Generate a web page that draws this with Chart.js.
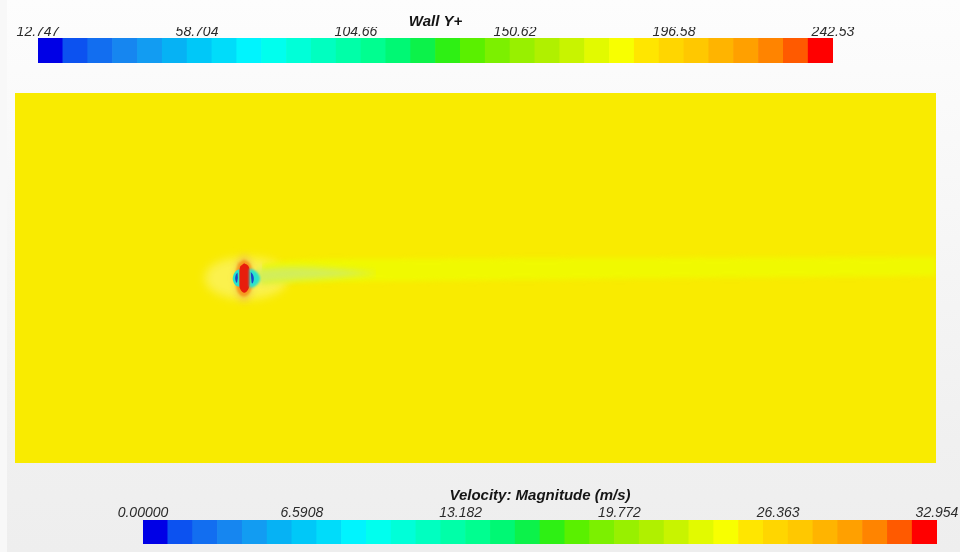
<!DOCTYPE html>
<html>
<head>
<meta charset="utf-8">
<title>Wall Y+ / Velocity: Magnitude</title>
<script src="https://cdn.jsdelivr.net/npm/chart.js@4.4.0/dist/chart.umd.min.js"></script>
<style>
    html, body { margin: 0; padding: 0; }
    body {
        width: 960px;
        height: 552px;
        overflow: hidden;
        position: relative;
        background: linear-gradient(to bottom, #fdfdfd 0%, #f9f9f9 25%, #f0f0f0 80%, #eeeeee 100%);
    }
    #borde { position: absolute; left: 0; top: 0; width: 7px; height: 552px; background: #f8f8f8; }
    canvas { position: absolute; }
    #barraWall { left: 0; top: 0; }
    #campo { left: 15px; top: 93px; }
    #barraVel { left: 0; top: 480px; }
</style>
</head>
<body>
<div id="borde"></div>
<canvas id="barraWall" width="960" height="66"></canvas>
<canvas id="campo" width="921" height="370"></canvas>
<canvas id="barraVel" width="960" height="66"></canvas>

<script>
// ---- colour scale shared by both bars (32 levels, blue -> red) ----
const mapaColores = [
    '#0000e6', '#0c52f0', '#126ef0', '#1686f0', '#129cf2', '#06b2f4', '#00c8f8', '#00dcfa',
    '#00f4fe', '#00ffee', '#00ffd8', '#00ffc0', '#00ffa8', '#00fe90', '#00f874', '#0cf24a',
    '#2ef014', '#5af000', '#7cf000', '#98f000', '#b0f000', '#c8f400', '#e2fa00', '#f8ff00',
    '#ffe600', '#ffd600', '#ffc800', '#ffb400', '#ffa000', '#ff8400', '#ff5a00', '#ff0000'
];

// ---- Wall Y+ bar ----
const wallYTicks = [12.747, 58.704, 104.66, 150.62, 196.58, 242.53];
const wallYEtiquetas = ['12.747', '58.704', '104.66', '150.62', '196.58', '242.53'];

// ---- velocity bar ----
const velTicks = [0, 6.5908, 13.182, 19.772, 26.363, 32.954];
const velEtiquetas = ['0.00000', '6.5908', '13.182', '19.772', '26.363', '32.954'];

// ---- velocity field, section plane (x, y in m) ----
// pale zone around the body
const halo = [[12.55, 1.15], [13.7, 1.0], [14.5, 0.6], [14.8, 0], [14.5, -0.6], [13.7, -1.0],
              [12.55, -1.15], [11.4, -1.0], [10.6, -0.6], [10.3, 0], [10.6, 0.6], [11.4, 1.0]];
// wake downstream of the body
const esteleX = [13.4, 15.5, 20.9, 31.8, 50];
const esteleSup = [0.76, 0.97, 1.03, 1.08, 1.14];
const esteleInf = [-0.27, -0.22, -0.16, -0.05, 0.11];
// near wake, slower
const esteleCercaX = [13.1, 14.9, 17.1, 19.6];
const esteleCercaSup = [0.5, 0.6, 0.52, 0.28];
const esteleCercaInf = [-0.34, -0.16, 0.0, 0.22];
// stagnation zones on the body
const brillo = [[12.43, 1.3], [12.78, 1.0], [12.9, 0.4], [12.9, -0.4], [12.78, -1.0], [12.43, -1.3],
                [12.08, -1.0], [11.96, -0.4], [11.96, 0.4], [12.08, 1.0]];
const franjaNaranja = [[12.43, 1.0], [12.74, 0.8], [12.88, 0.3], [12.88, -0.3], [12.74, -0.8], [12.43, -1.0],
                       [12.12, -0.8], [11.99, -0.3], [11.99, 0.3], [12.12, 0.8]];
const nucleoRojo = [[12.44, 0.8], [12.66, 0.66], [12.76, 0.3], [12.77, -0.1], [12.69, -0.56], [12.46, -0.8],
                    [12.24, -0.62], [12.13, -0.2], [12.14, 0.26], [12.23, 0.64]];
// accelerated flow on both sides
const cianIzq = [[12.18, 0.47], [11.98, 0.37], [11.84, 0.1], [11.84, -0.15], [11.98, -0.4], [12.18, -0.47]];
const cianDer = [[12.72, 0.5], [12.98, 0.43], [13.22, 0.2], [13.3, -0.05], [13.17, -0.32], [12.92, -0.5], [12.72, -0.52]];
const azulIzq = [[12.08, 0.3], [11.98, 0.15], [11.96, -0.1], [12.04, -0.26], [12.1, 0.0]];
const azulDer = [[12.8, 0.32], [12.93, 0.15], [12.96, -0.12], [12.87, -0.3], [12.82, 0.0]];

const estilo = {
    fuente: '"Liberation Sans", Arial, sans-serif',
    texto: '#2a2a2a',
    campo: '#f9eb00',
    estele: '#f0f900',
    esteleCerca: '#d2ee5a',
    halo: 'rgba(252, 248, 170, 0.45)',
    brillo: 'rgba(238, 175, 80, 0.5)',
    naranja: '#f59a20',
    rojo: '#e81e0c',
    cian: '#2ae2cc',
    azul: '#1a44c8'
};

Chart.defaults.font.family = estilo.fuente;

function aPuntos(lista) {
    return lista.map(p => ({ x: p[0], y: p[1] }));
}

function curva(xs, ys) {
    return xs.map((x, i) => ({ x: x, y: ys[i] }));
}

// closed filled region, blurred a little to get the smooth contour look
function zona(lista, color, blur) {
    return {
        data: aPuntos(lista),
        fill: 'shape',
        backgroundColor: color,
        borderWidth: 0,
        pointRadius: 0,
        tension: 0.4,
        blur: blur
    };
}

// ---- colour bar with its scale on top ----
// note: chart.js counts ticks.padding twice in the axis height
function crearBarra(id, titulo, ticks, etiquetas, margen) {
    new Chart(document.getElementById(id), {
        type: 'bar',
        data: {
            labels: mapaColores.map((c, i) => String(i + 1)),
            datasets: [{
                data: mapaColores.map(() => 1),
                backgroundColor: mapaColores,
                borderWidth: 0,
                barPercentage: 1,
                categoryPercentage: 1
            }]
        },
        options: {
            responsive: false,
            animation: false,
            events: [],
            layout: { padding: margen.layout },
            plugins: {
                legend: { display: false },
                tooltip: { enabled: false },
                title: {
                    display: true,
                    text: titulo,
                    color: '#151515',
                    font: { size: 15, weight: 'bold', style: 'italic' },
                    padding: margen.titulo
                }
            },
            scales: {
                x: { display: false },
                y: { display: false, min: 0, max: 1 },
                x2: {
                    type: 'linear',
                    position: 'top',
                    offset: false,
                    min: ticks[0],
                    max: ticks[ticks.length - 1],
                    grid: { display: false, drawTicks: false, offset: false },
                    border: { display: false },
                    afterBuildTicks: function(eje) {
                        eje.ticks = ticks.map(v => ({ value: v }));
                    },
                    ticks: {
                        padding: margen.ticks,
                        color: estilo.texto,
                        autoSkip: false,
                        maxRotation: 0,
                        font: { size: 14, style: 'italic' },
                        callback: function(valor, i) {
                            return etiquetas[i];
                        }
                    }
                }
            }
        }
    });
}

// ---- field plot ----
const fondoCampo = {
    id: 'fondoCampo',
    beforeDraw(chart) {
        const { ctx, chartArea: a } = chart;
        ctx.save();
        ctx.fillStyle = estilo.campo;
        ctx.fillRect(a.left, a.top, a.right - a.left, a.bottom - a.top);
        ctx.restore();
    }
};

// datasets are drawn last-to-first, so the blur of the next one is set after each draw
function ponerBlur(chart, i) {
    const ds = chart.data.datasets[i];
    chart.ctx.filter = ds && ds.blur ? 'blur(' + ds.blur + 'px)' : 'none';
}

const bordesSuaves = {
    id: 'bordesSuaves',
    beforeDatasetsDraw(chart) { ponerBlur(chart, chart.data.datasets.length - 1); },
    afterDatasetDraw(chart, args) { ponerBlur(chart, args.index - 1); },
    afterDatasetsDraw(chart) { chart.ctx.filter = 'none'; }
};

function crearCampo() {
    new Chart(document.getElementById('campo'), {
        type: 'line',
        data: {
            datasets: [
                zona(azulIzq, estilo.azul, 0.6),
                zona(azulDer, estilo.azul, 0.6),
                zona(cianIzq, estilo.cian, 0.6),
                zona(cianDer, estilo.cian, 0.8),
                zona(nucleoRojo, estilo.rojo, 0.6),
                zona(franjaNaranja, estilo.naranja, 1.2),
                zona(brillo, estilo.brillo, 3),
                {
                    data: curva(esteleCercaX, esteleCercaSup),
                    fill: '+1', backgroundColor: estilo.esteleCerca,
                    borderWidth: 0, pointRadius: 0, tension: 0.4, blur: 3
                },
                { data: curva(esteleCercaX, esteleCercaInf), borderWidth: 0, pointRadius: 0, tension: 0.4 },
                {
                    data: curva(esteleX, esteleSup),
                    fill: '+1', backgroundColor: estilo.estele,
                    borderWidth: 0, pointRadius: 0, tension: 0.4, blur: 2.5
                },
                { data: curva(esteleX, esteleInf), borderWidth: 0, pointRadius: 0, tension: 0.4 },
                zona(halo, estilo.halo, 5)
            ]
        },
        options: {
            responsive: false,
            animation: false,
            events: [],
            layout: { padding: 0 },
            plugins: {
                legend: { display: false },
                tooltip: { enabled: false }
            },
            scales: {
                x: { type: 'linear', min: 0, max: 50, display: false },
                y: { type: 'linear', min: -10, max: 10, display: false }
            }
        },
        plugins: [fondoCampo, bordesSuaves]
    });
}

document.addEventListener('DOMContentLoaded', function() {
    crearBarra('barraWall', 'Wall Y+', wallYTicks, wallYEtiquetas, {
        layout: { left: 38, right: 127, top: 0, bottom: 3 },
        titulo: { top: 13, bottom: -4 },
        ticks: -2.9
    });
    crearCampo();
    crearBarra('barraVel', 'Velocity: Magnitude (m/s)', velTicks, velEtiquetas, {
        layout: { left: 143, right: 23, top: 0, bottom: 2 },
        titulo: { top: 7, bottom: 1 },
        ticks: -1.4
    });
});
</script>
</body>
</html>
